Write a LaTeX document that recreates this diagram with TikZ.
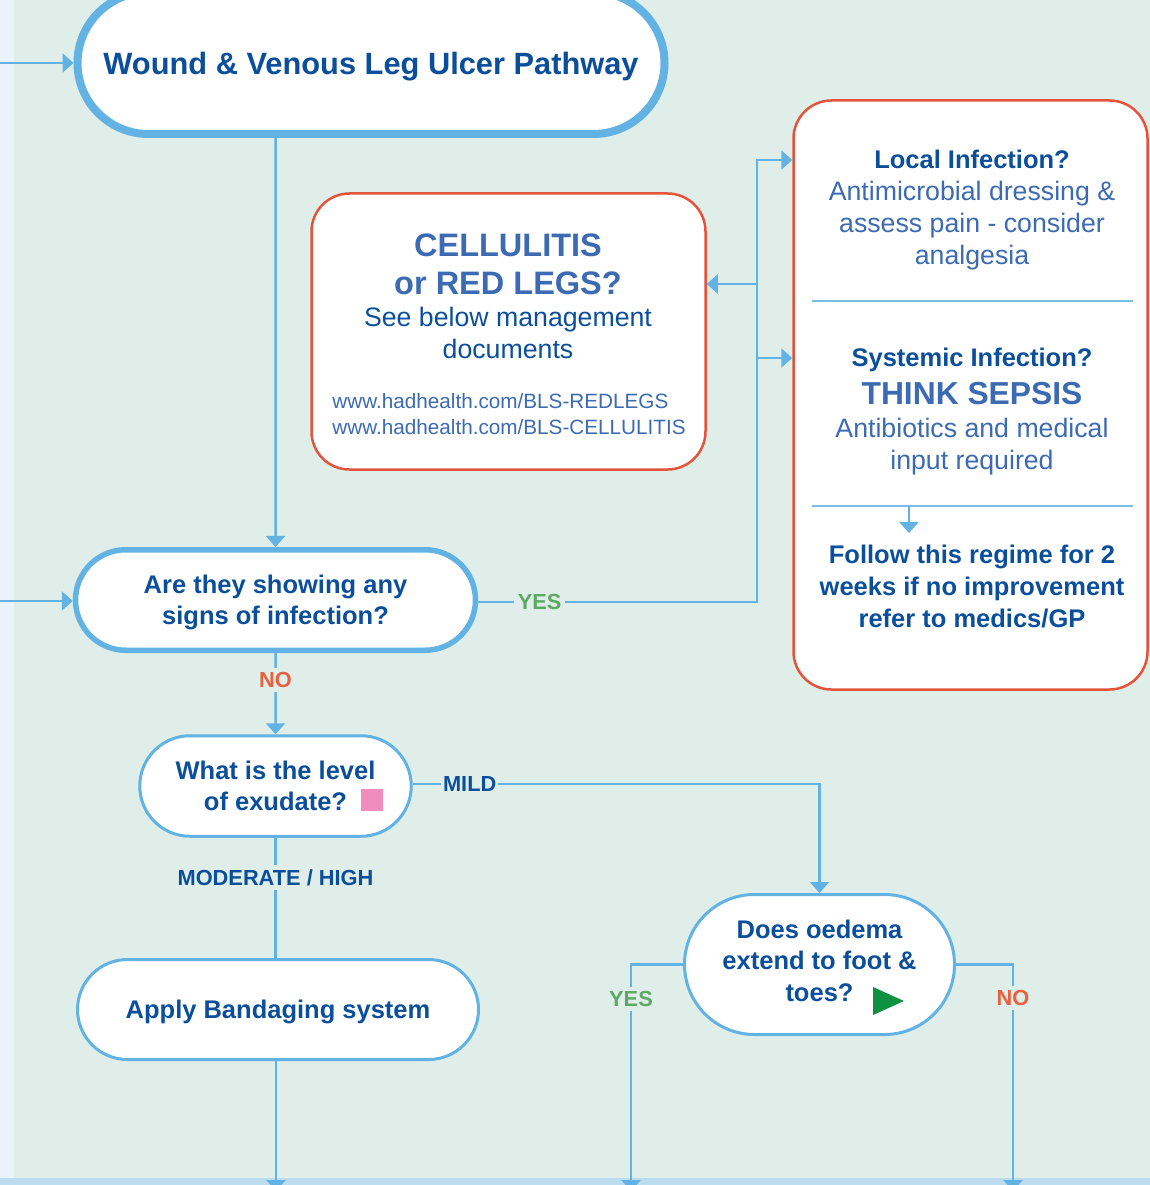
\documentclass[tikz,border=0pt]{standalone}
\usepackage{fontspec}
\setmainfont{Liberation Sans}
\usetikzlibrary{shapes.misc,arrows.meta}

\definecolor{bggreen}{HTML}{DFEEE8}
\definecolor{sidestrip}{HTML}{EBF3FA}
\definecolor{footstrip}{HTML}{BCDCF0}
\definecolor{lineblue}{HTML}{62B3E4}
\definecolor{darkblue}{HTML}{0B4F9C}
\definecolor{midblue}{HTML}{3C6AB3}
\definecolor{redline}{HTML}{E4543C}
\definecolor{yesgreen}{HTML}{5DA964}
\definecolor{nored}{HTML}{E8613F}
\definecolor{exupink}{HTML}{F08DBC}
\definecolor{gogreen}{HTML}{0E9141}

\begin{document}
\begin{tikzpicture}[x=1pt, y=-1pt, >={Triangle[width=19pt,length=11pt]},
    pill/.style={draw=lineblue, fill=white, rounded rectangle, line width=3pt, inner sep=0pt,
        font=\fontsize{25.5}{31.5}\selectfont\bfseries, text=darkblue, align=center},
    redbox/.style={draw=redline, fill=white, rounded corners=38pt, line width=2.5pt, inner sep=0pt},
    flow/.style={draw=lineblue, line width=2.5pt},
    divider/.style={draw=lineblue!85, line width=1.5pt},
    head/.style={font=\fontsize{25.5}{32}\selectfont\bfseries, text=darkblue, align=center},
    body/.style={font=\fontsize{26.7}{32}\selectfont, text=midblue, align=center},
    big/.style={font=\fontsize{32.5}{38}\selectfont\bfseries, text=midblue, align=center},
    answer/.style={font=\fontsize{21.8}{22}\selectfont\bfseries, fill=bggreen, inner sep=4pt}]

    \useasboundingbox (0,0) rectangle (1150,1185);
    \clip (0,0) rectangle (1150,1185);
    \fill[bggreen] (0,0) rectangle (1150,1185);
    \fill[sidestrip] (0,0) rectangle (14,1185);
    \fill[footstrip] (0,1178) rectangle (1150,1185);

    % pathway boxes
    \node[pill, line width=8pt, minimum width=587pt, minimum height=142pt, text depth=0pt,
        font=\fontsize{30.8}{36}\selectfont\bfseries] (title) at (371,63) {Wound \& Venous Leg Ulcer Pathway};
    \node[pill, line width=5.5pt, minimum width=400pt, minimum height=100.5pt] (infect) at (275.5,600) {\rule{0pt}{23pt}Are they showing any\\signs of infection?};
    \node[pill, minimum width=271.5pt, minimum height=100.5pt] (exud) at (275.5,786) {What is the level\\of exudate?};
    \node[pill, minimum width=401pt, minimum height=100pt, text depth=0pt] (apply) at (278,1009.5) {Apply Bandaging system};
    \node[pill, minimum width=270pt, minimum height=140pt] (oedema) at (819.5,964.5) {Does oedema\\extend to foot \&\\toes?\rule[-8pt]{0pt}{8pt}};
    \fill[exupink] (361,789) rectangle (383,811);
    \fill[gogreen] (873,987) -- (904,1001) -- (873,1015) -- cycle;

    % cellulitis box
    \node[redbox, minimum width=394pt, minimum height=276pt] (cell) at (508.5,331.5) {};
    \node[big] (cellhead) at (508,264) {CELLULITIS\\or RED LEGS?};
    \node[body, text=darkblue] (cellnote) at (508,333) {See below management\\documents};
    \node[body, align=left, font=\fontsize{20.7}{26}\selectfont] (celllinks) at (509,414) {www.hadhealth.com/BLS-REDLEGS\\www.hadhealth.com/BLS-CELLULITIS};

    % infection box
    \node[redbox, minimum width=354pt, minimum height=589pt] (infbox) at (970.5,395) {};
    \node[head] (localhead) at (972,159) {Local Infection?};
    \node[body] (localnote) at (972,226) {Antimicrobial dressing \&\\assess pain - consider\\analgesia};
    \node[head] (syshead) at (972,360) {Systemic Infection?};
    \node[big, font=\fontsize{31.8}{38}\selectfont\bfseries] (sepsis) at (972,394) {THINK SEPSIS};
    \node[body] (sysnote) at (972,447) {Antibiotics and medical\\input required};
    \node[head] (follow) at (972,587) {Follow this regime for 2\\weeks if no improvement\\refer to medics/GP};
    \draw[divider] (812,301) -- (1133,301);
    \draw[divider] (812,506) -- (1133,506);

    \coordinate (from1) at (0,63);
    \coordinate (from2) at (0,601);
    \coordinate (fork) at (757,602);
    \coordinate (toLocal) at (757,160);
    \coordinate (toSys) at (757,358);
    \coordinate (toCell) at (757,284);
    \coordinate (sep2) at (909,506);
    \coordinate (sep2end) at (909,533);
    \coordinate (out1) at (276,1191);
    \coordinate (out2) at (631,1191);
    \coordinate (out3) at (1013,1191);

    \draw[flow, ->] (from1) -- (title);
    \draw[flow, ->] (from2) -- (from2 -| infect.west);
    \draw[flow, ->] (title.south -| infect) -- (infect);
    \draw[flow, ->] (infect.east |- fork) -- node[answer, text=yesgreen, pos=.22] {YES} (fork) |- (toLocal -| infbox.west);
    \draw[flow, ->] (toSys) -- (toSys -| infbox.west);
    \draw[flow, ->] (toCell) -- (toCell -| cell.east);
    \draw[flow, ->] (sep2) -- (sep2end);
    \draw[flow, ->] (infect) -- node[answer, text=nored, pos=.33] {NO} (exud);
    \draw[flow, ->] (exud.east) ++(0,-2) -| node[answer, text=darkblue, pos=.07, inner xsep=2pt] {MILD} (oedema.north);
    \draw[flow] (exud) -- node[answer, text=darkblue, pos=.33] {MODERATE / HIGH} (exud |- apply.north);
    \draw[flow, ->] (apply.south -| out1) -- (out1);
    \draw[flow, ->] (oedema.west) -| node[answer, text=yesgreen, pos=.576] {YES} (out2);
    \draw[flow, ->] (oedema.east) -| node[answer, text=nored, pos=.574] {NO} (out3);
\end{tikzpicture}
\end{document}
